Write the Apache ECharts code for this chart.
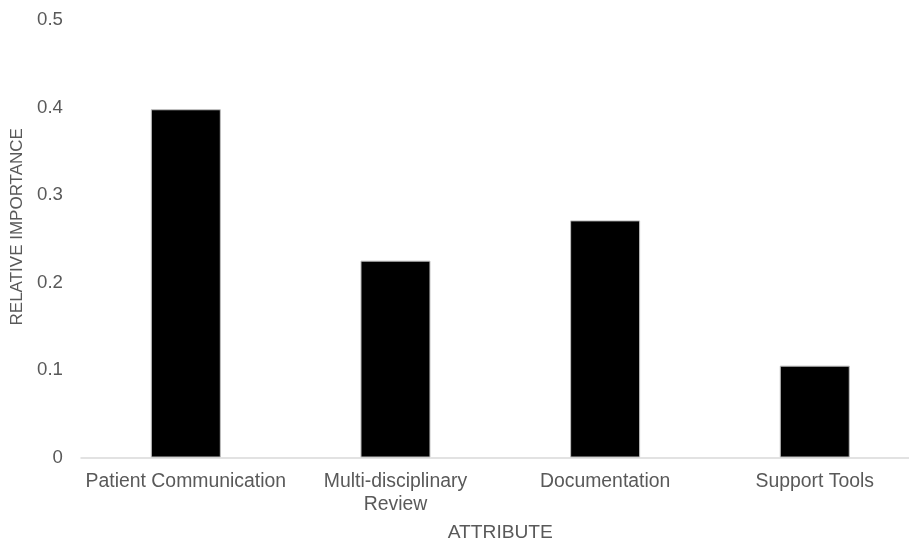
<!DOCTYPE html>
<html>
<head>
<meta charset="utf-8">
<script src="https://cdn.jsdelivr.net/npm/echarts@6/dist/echarts.min.js"></script>
<style>
  html, body { margin: 0; padding: 0; background: #fff; }
  #chart { width: 909px; height: 542px; }
</style>
</head>
<body>
<div id="chart"></div>
<script>
// Relative importance of each attribute
const categories = ['Patient Communication', 'Multi-disciplinary\nReview', 'Documentation', 'Support Tools'];
const importance = [0.398, 0.225, 0.271, 0.105];
const yTicks = { min: 0, max: 0.5, interval: 0.1 };

const textColor = '#595959';
const fontFamily = 'Liberation Sans, Arial, sans-serif';

const chart = echarts.init(document.getElementById('chart'), null, { renderer: 'canvas' });
chart.setOption({
  animation: false,
  backgroundColor: '#ffffff',
  grid: { left: 81, top: 20, width: 838.6, height: 437.5, containLabel: false, outerBoundsMode: 'none' },
  xAxis: {
    type: 'category',
    data: categories,
    name: 'ATTRIBUTE',
    nameLocation: 'middle',
    nameGap: 66,
    nameTextStyle: { color: textColor, fontFamily, fontSize: 19.2 },
    axisLine: { show: true, lineStyle: { color: '#d9d9d9', width: 1.5 } },
    axisTick: { show: false },
    axisLabel: { color: textColor, fontFamily, fontSize: 19.4, margin: 13, lineHeight: 22.5, interval: 0 },
    splitLine: { show: false }
  },
  yAxis: {
    type: 'value',
    min: yTicks.min,
    max: yTicks.max,
    interval: yTicks.interval,
    name: 'RELATIVE IMPORTANCE',
    nameLocation: 'middle',
    nameGap: 49,
    nameTextStyle: { color: textColor, fontFamily, fontSize: 17, padding: [0, 0, 0, 24] },
    axisLine: { show: false },
    axisTick: { show: false },
    splitLine: { show: false },
    axisLabel: {
      color: textColor, fontFamily, fontSize: 18.67, margin: 18,
      formatter: v => (v === 0 ? '0' : v.toFixed(1))
    }
  },
  series: [{
    type: 'bar',
    data: importance,
    barWidth: 70,
    itemStyle: { color: '#000000', borderColor: '#bfbfbf', borderWidth: 1 }
  }]
});
</script>
</body>
</html>
